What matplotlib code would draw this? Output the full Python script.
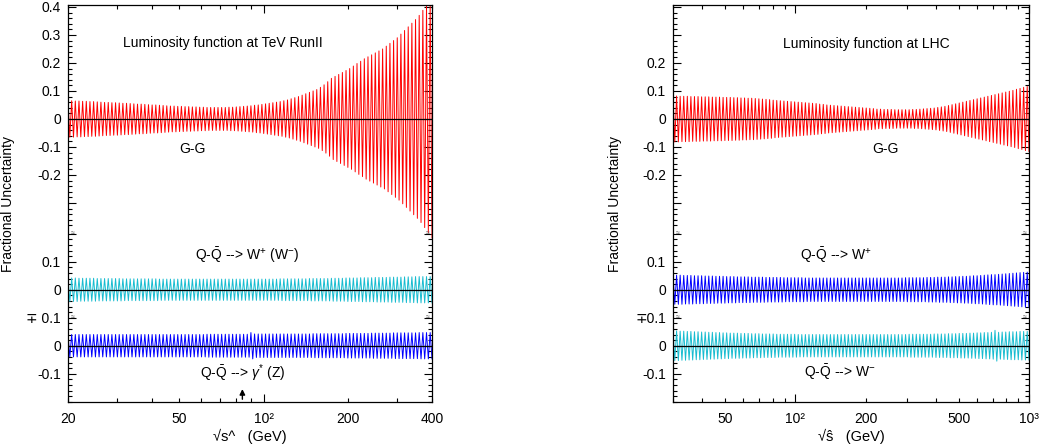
import numpy as np
import matplotlib
matplotlib.use('Agg')
import matplotlib.pyplot as plt
import matplotlib.transforms as mtransforms
from matplotlib.ticker import FixedLocator, FixedFormatter, NullFormatter

plt.rcParams['font.family'] = ['Liberation Sans', 'DejaVu Sans']
plt.rcParams['mathtext.fontset'] = 'custom'
plt.rcParams['mathtext.rm'] = 'Liberation Sans'
plt.rcParams['mathtext.it'] = 'Liberation Sans:italic'
plt.rcParams['mathtext.bf'] = 'Liberation Sans:bold'

# --- dados ---
# faixa de sqrt(s^) de cada painel (GeV)
tev_range = (20, 400)
lhc_range = (30, 1000)

# meia largura da incerteza (x1000), um valor por "dente" (100 por curva)
tev_gg = [65, 65, 64, 64, 63, 63, 62, 62, 61, 60,
          59, 59, 58, 58, 57, 56, 56, 55, 54,
          53, 53, 52, 51, 50, 50, 49, 48, 47,
          46, 46, 45, 45, 44, 44, 43, 43, 42,
          42, 41, 41, 41, 41, 41, 41, 42, 42,
          43, 44, 45, 46, 47, 49, 50, 52, 54,
          56, 58, 60, 62,
          65, 68, 72, 76, 80,
          85, 90, 95, 100, 105,
          113, 122, 133, 145,
          152, 159, 166, 173, 180,
          189, 198, 206, 215,
          222, 229, 236, 243, 250,
          260, 270, 280, 290,
          303, 316, 329, 342, 355, 370,
          388, 406, 425]
tev_wpm = [42, 42, 42, 41, 41, 41, 41, 41, 40, 40,
           40, 40, 40, 40, 40, 39, 39, 39, 39, 39,
           39, 39, 39, 39, 39, 38, 38, 38, 38, 38,
           38, 38, 38, 38, 38, 38, 38, 38, 38, 38,
           38, 38, 38, 38, 38, 38, 38, 38, 38, 38,
           38, 38, 38, 38, 38, 38, 38, 38, 39, 39,
           39, 39, 39, 39, 39, 39, 40, 40, 40, 40,
           40, 40, 41, 41, 41, 41, 42, 42, 42, 42,
           43, 43, 43, 43, 44, 44, 44, 44, 45, 45,
           45, 45, 46, 46, 46, 47, 47, 47, 47, 47]
tev_z = [40, 40, 40, 40, 40, 40, 40, 40, 40, 40,
         40, 40, 40, 40, 40, 40, 40, 40, 40, 40,
         40, 40, 40, 40, 40, 40, 40, 40, 40, 40,
         40, 40, 40, 40, 40, 40, 40, 40, 41, 41,
         41, 41, 41, 41, 41, 41, 41, 41, 41, 41,
         47, 42, 42, 42, 42, 42, 42, 42, 42, 42,
         42, 42, 42, 42, 42, 42, 42, 43, 43, 43,
         43, 43, 43, 43, 43, 43, 44, 44, 44, 44,
         44, 44, 44, 45, 45, 45, 45, 45, 45, 46,
         46, 46, 46, 46, 46, 46, 47, 47, 47, 47]
lhc_gg = [82, 82, 81, 81, 81, 80, 80, 80, 79, 79, 79, 78, 78,
          78, 77, 77, 77, 76, 76, 75, 75, 74, 74, 73, 72,
          71, 70, 69, 67, 66, 65, 64, 63, 62, 61, 60, 59, 58, 57,
          56, 55, 53, 52, 50,
          49, 48, 47, 46, 45, 44, 43, 42, 41, 40, 39, 38, 37, 35,
          35, 34, 34, 34, 33, 33, 33, 33, 33,
          34, 34, 35, 36, 37, 38, 39, 41, 43,
          45, 48, 51, 54, 57, 60, 63, 66, 69,
          72, 75, 78, 81, 84, 87, 90, 93, 96, 99,
          102, 106, 109, 113, 116]
lhc_wp = [52, 52, 52, 51, 51, 51, 50, 50, 50, 49,
          49, 49, 48, 48, 48, 47, 47, 47, 46, 46,
          46, 46, 45, 45, 45, 45, 44, 44, 44, 44,
          44, 43, 43, 43, 43, 43, 43, 42, 42, 42,
          42, 42, 42, 42, 42, 42, 42, 42, 42, 42,
          42, 42, 42, 42, 42, 42, 42, 42, 42, 42,
          42, 42, 42, 42, 42, 43, 43, 43, 43, 43,
          43, 44, 44, 44, 45, 45, 45, 46, 46, 47,
          47, 48, 48, 49, 50, 50, 51, 52, 53, 54,
          54, 55, 56, 57, 58, 59, 60, 61, 62, 63]
lhc_wm = [53, 53, 52, 52, 51, 51, 50, 50, 49, 49,
          48, 48, 47, 47, 46, 46, 45, 45, 45, 44,
          44, 44, 43, 43, 43, 42, 42, 42, 42, 41,
          41, 41, 41, 41, 41, 40, 40, 40, 40, 40,
          40, 40, 40, 40, 40, 40, 40, 40, 40, 40,
          40, 40, 40, 40, 40, 40, 40, 40, 40, 40,
          40, 40, 40, 40, 40, 40, 41, 41, 41, 41,
          41, 41, 41, 42, 42, 42, 42, 43, 43, 43,
          44, 44, 44, 45, 45, 46, 46, 47, 47, 48,
          55, 48, 49, 49, 50, 50, 50, 51, 51, 51]

# deslocamento vertical de cada faixa (eixo quebrado em 3 partes)
OFF_TOP = 0.0
OFF_MID = -0.61
OFF_BOT = -0.81
YLIM = (-1.011, 0.407)

RED = '#ff0000'
CYAN = '#18bcd0'
BLUE = '#0000ff'


def zigzag(ax, xr, widths, offset, color):
    # desenha o "dente de serra" alternando +w e -w
    w = np.array(widths) / 1000.0
    n = len(w)
    x = np.geomspace(xr[0], xr[1], 2 * n)
    sinal = np.tile([1, -1], n)
    y = offset + sinal * np.repeat(w, 2)
    ax.plot(x, y, color=color, lw=0.7, zorder=2)
    ax.axhline(offset, color='k', lw=0.9, zorder=3)


def eixo_y(ax, rotulos_topo, rotulo_pm):
    maj = [0.4, 0.3, 0.2, 0.1, 0.0, -0.1, -0.2, -0.3,
           OFF_MID + 0.2, OFF_MID + 0.1, OFF_MID, OFF_MID - 0.1,
           OFF_BOT, OFF_BOT - 0.1]
    labels = rotulos_topo + ['', '0.1', '0', rotulo_pm, '0', '-0.1']
    minor = np.concatenate([np.arange(-0.38, 0.401, 0.02),
                            OFF_MID + np.arange(-0.1, 0.201, 0.02),
                            OFF_BOT + np.arange(-0.2, 0.101, 0.02)])
    ax.yaxis.set_major_locator(FixedLocator(maj))
    ax.yaxis.set_major_formatter(FixedFormatter(labels))
    ax.yaxis.set_minor_locator(FixedLocator(minor))
    ax.yaxis.set_minor_formatter(NullFormatter())
    ax.set_ylim(*YLIM)

    # marquinhas de quebra nas bordas
    trans = mtransforms.blended_transform_factory(ax.transAxes, ax.transData)
    for xb in (0.0, 1.0):
        for yb in (OFF_MID + 0.2, OFF_MID - 0.1):
            ax.text(xb + (0.012 if xb == 0 else -0.012), yb, '\u2248', transform=trans,
                    fontsize=5, ha='center', va='center', color='0.3')


def eixo_x(ax, xr, maj, maj_lab, minor, minor_lab):
    ax.set_xscale('log')
    ax.set_xlim(*xr)
    ax.xaxis.set_major_locator(FixedLocator(maj))
    ax.xaxis.set_major_formatter(FixedFormatter(maj_lab))
    ax.xaxis.set_minor_locator(FixedLocator(minor))
    ax.xaxis.set_minor_formatter(FixedFormatter(minor_lab))


def estilo(ax):
    ax.tick_params(axis='both', which='both', direction='in', top=True, right=True,
                   labelsize=10, colors='k')
    ax.tick_params(axis='both', which='major', length=6, width=0.8)
    ax.tick_params(axis='both', which='minor', length=3, width=0.8)
    ax.tick_params(axis='x', which='both', pad=7)
    ax.tick_params(axis='y', which='both', pad=5)
    for s in ax.spines.values():
        s.set_linewidth(0.9)


fig = plt.figure(figsize=(10.42, 4.48), dpi=100)

# ---------------- painel TeV ----------------
ax1 = fig.add_axes([68 / 1042, 46 / 448, 364 / 1042, 397 / 448])
zigzag(ax1, tev_range, tev_gg, OFF_TOP, RED)
zigzag(ax1, tev_range, tev_wpm, OFF_MID, CYAN)
zigzag(ax1, tev_range, tev_z, OFF_BOT, BLUE)
eixo_y(ax1, ['0.4', '0.3', '0.2', '0.1', '0', '-0.1', '-0.2', ''], '\u2213 0.1')
eixo_x(ax1, tev_range, [100], ['10\u00b2'],
       [20, 30, 40, 50, 60, 70, 80, 90, 200, 300, 400],
       ['20', '', '', '50', '', '', '', '', '200', '', '400'])
estilo(ax1)
ax1.annotate('', xy=(84, -0.955), xytext=(84, YLIM[0]),
             arrowprops=dict(arrowstyle='-|>', color='k', lw=1, mutation_scale=8))

ax1.text(0.426, 0.904, 'Luminosity function at TeV RunII', transform=ax1.transAxes,
         ha='center', va='center', fontsize=10)
ax1.text(0.343, 0.637, 'G-G', transform=ax1.transAxes, ha='center', va='center', fontsize=10)
ax1.text(0.493, 0.370, r'Q-$\bar{\mathrm{Q}}$ --> W$^{+}$ (W$^{-}$)', transform=ax1.transAxes,
         ha='center', va='center', fontsize=10)
ax1.text(0.481, 0.073, r'Q-$\bar{\mathrm{Q}}$ --> $\gamma^{*}$ (Z)', transform=ax1.transAxes,
         ha='center', va='center', fontsize=10)
ax1.set_ylabel('Fractional Uncertainty', fontsize=10)
ax1.yaxis.set_label_coords(-0.146, 0.5)
ax1.set_xlabel('\u221as^   (GeV)', fontsize=10.5)
ax1.xaxis.set_label_coords(0.5, -0.068)

# ---------------- painel LHC ----------------
ax2 = fig.add_axes([673 / 1042, 46 / 448, 356 / 1042, 397 / 448])
zigzag(ax2, lhc_range, lhc_gg, OFF_TOP, RED)
zigzag(ax2, lhc_range, lhc_wp, OFF_MID, BLUE)
zigzag(ax2, lhc_range, lhc_wm, OFF_BOT, CYAN)
eixo_y(ax2, ['', '', '0.2', '0.1', '0', '-0.1', '-0.2', ''], '\u22130.1')
eixo_x(ax2, lhc_range, [100, 1000], ['10\u00b2', '10\u00b3'],
       [30, 40, 50, 60, 70, 80, 90, 200, 300, 400, 500, 600, 700, 800, 900],
       ['', '', '50', '', '', '', '', '200', '', '', '500', '', '', '', ''])
estilo(ax2)

ax2.text(0.542, 0.902, 'Luminosity function at LHC', transform=ax2.transAxes,
         ha='center', va='center', fontsize=10)
ax2.text(0.598, 0.637, 'G-G', transform=ax2.transAxes, ha='center', va='center', fontsize=10)
ax2.text(0.458, 0.370, r'Q-$\bar{\mathrm{Q}}$ --> W$^{+}$', transform=ax2.transAxes,
         ha='center', va='center', fontsize=10)
ax2.text(0.469, 0.076, r'Q-$\bar{\mathrm{Q}}$ --> W$^{-}$', transform=ax2.transAxes,
         ha='center', va='center', fontsize=10)
ax2.set_ylabel('Fractional Uncertainty', fontsize=10)
ax2.yaxis.set_label_coords(-0.143, 0.5)
ax2.set_xlabel('\u221a\u015d   (GeV)', fontsize=10.5)
ax2.xaxis.set_label_coords(0.5, -0.068)

fig.savefig('out.png', dpi=100)
